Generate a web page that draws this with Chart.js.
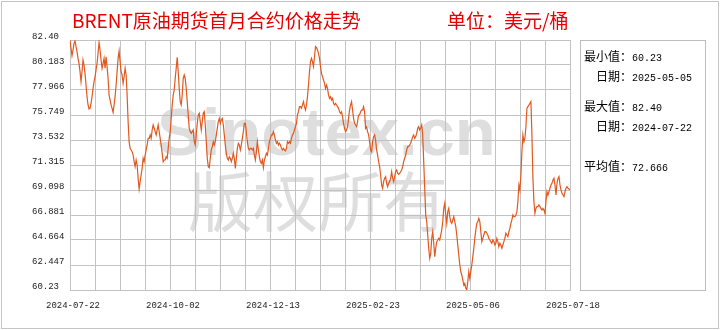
<!DOCTYPE html>
<html><head><meta charset="utf-8">
<script src="https://cdn.jsdelivr.net/npm/chart.js@4/dist/chart.umd.min.js"></script>
<style>
html,body{margin:0;padding:0;background:#fff;}
#wrap{position:relative;width:720px;height:330px;overflow:hidden;background:#fff;}
#frame{position:absolute;left:1px;top:1px;width:716px;height:326px;border:1px solid #c4c4c4;}
canvas{position:absolute;left:0;top:0;}
.ttl{position:absolute;top:8px;font-family:"Noto Sans CJK SC";font-size:19px;line-height:24px;color:#e60000;white-space:nowrap;}
#panel{position:absolute;left:580px;top:40px;width:124px;height:249px;border:1px solid #bdbdbd;}
.row{position:absolute;white-space:nowrap;line-height:14px;height:14px;color:#000;}
.cj{font-family:"Noto Sans CJK SC";font-size:12px;}
.nm{font-family:"Liberation Mono";font-size:10px;}
</style></head>
<body><div id="wrap">
<div id="frame"></div>
<canvas id="c" width="720" height="330"></canvas>
<div class="ttl" style="left:72px">BRENT原油期货首月合约价格走势</div>
<div class="ttl" style="left:447px">单位：美元/桶</div>
<div id="panel"></div>
<div class="row" style="left:584px;top:49px"><span class="cj">最小值：</span><span class="nm">60.23</span></div>
<div class="row" style="left:596px;top:69px"><span class="cj">日期：</span><span class="nm">2025-05-05</span></div>
<div class="row" style="left:584px;top:99px"><span class="cj">最大值：</span><span class="nm">82.40</span></div>
<div class="row" style="left:596px;top:119px"><span class="cj">日期：</span><span class="nm">2024-07-22</span></div>
<div class="row" style="left:584px;top:159px"><span class="cj">平均值：</span><span class="nm">72.666</span></div>
</div>
<script>
const xTickLabels = ['2024-07-22','2024-10-02','2024-12-13','2025-02-23','2025-05-06','2025-07-18'];
const yTickLabels = ['82.40','80.183','77.966','75.749','73.532','71.315','69.098','66.881','64.664','62.447','60.23'];
const daySpan = 361;
const yMin = 60.23, yMax = 82.40;
const prices = [
82.40,81.66,81.01,81.51,82.10,82.31,81.81,81.37,80.77,80.33,
79.59,78.71,79.59,80.63,80.18,79.44,78.41,77.37,76.64,76.28,
76.34,76.78,77.37,78.11,78.71,79.15,79.74,80.33,81.22,82.19,
81.51,80.63,79.89,80.33,80.77,79.89,80.92,80.04,79.00,77.52,
77.08,76.64,76.34,75.99,76.64,77.37,78.41,79.59,80.77,81.42,
80.48,79.59,79.30,78.56,79.15,79.89,79.30,77.52,75.16,73.38,
72.79,72.65,72.50,72.20,71.61,71.17,71.76,71.31,70.13,69.19,
69.84,70.43,71.02,71.91,71.61,72.20,72.65,73.09,73.68,73.68,
73.98,73.68,74.42,74.86,74.57,74.27,73.98,74.42,74.86,74.27,
73.68,73.09,72.35,71.61,71.76,71.76,72.05,71.91,72.79,73.68,
74.27,75.45,76.64,77.52,77.97,79.00,79.89,80.86,79.59,78.11,
76.93,76.64,77.52,79.00,79.30,79.00,78.11,76.93,75.75,74.57,
74.27,74.12,74.27,74.42,73.38,
73.09,73.98,75.01,75.75,75.90,75.16,74.42,75.16,75.90,76.04,
74.86,73.38,71.91,71.17,71.08,71.91,72.65,72.94,73.38,73.09,
73.38,73.98,74.57,75.16,75.45,75.01,75.31,75.45,74.86,73.98,
73.09,72.35,71.91,71.76,72.05,71.91,71.61,71.91,72.35,71.91,
71.02,71.91,72.79,73.24,73.09,72.65,73.09,73.68,74.27,75.01,
75.01,74.27,73.38,72.79,72.65,72.79,72.79,72.65,72.79,72.20,
71.76,72.50,73.38,72.65,72.05,71.61,71.46,71.76,71.08,71.76,
72.05,72.35,72.20,72.79,73.38,73.68,73.98,73.98,74.27,73.98,
73.53,73.24,73.38,73.09,73.24,73.09,72.79,72.65,72.79,72.65,
72.56,72.79,73.38,73.24,73.38,73.24,73.68,73.98,74.12,74.42,
74.71,75.01,75.75,76.04,76.49,76.49,76.34,76.64,76.93,76.49,
76.19,76.64,77.37,78.41,79.59,80.48,80.77,80.48,80.04,80.92,
81.81,81.72,81.51,81.22,80.77,80.04,79.44,79.15,78.85,78.56,
78.11,78.41,78.11,77.52,77.23,77.37,77.08,77.23,76.78,76.64,
76.78,76.64,76.49,76.34,76.04,75.90,76.04,75.60,75.01,74.57,
74.27,74.42,74.71,75.45,76.19,76.64,76.93,76.19,75.45,75.01,
74.86,74.71,75.16,75.75,75.75,76.04,76.19,76.19,76.49,76.04,
74.57,74.71,74.27,73.98,73.38,72.65,72.50,73.38,73.83,73.98,
73.53,72.65,72.20,71.61,71.17,70.43,69.54,69.25,69.84,70.13,
70.28,69.69,69.39,69.69,69.84,70.13,70.72,70.13,69.84,70.28,
70.72,70.87,70.58,70.49,70.58,70.72,70.87,71.17,71.61,71.91,
72.20,72.65,72.94,72.94,73.09,73.24,73.53,73.83,73.98,73.68,
73.83,74.12,74.57,74.71,74.42,74.57,74.86,73.98,71.61,69.25,
66.88,66.29,65.11,63.93,63.04,63.48,64.81,65.40,64.37,63.19,
63.93,64.52,64.66,64.81,
64.66,65.11,65.55,66.29,67.47,67.92,66.88,66.14,67.18,67.47,
66.73,66.29,66.14,66.44,66.73,66.29,65.85,65.11,64.22,63.33,
62.45,61.86,61.56,61.12,60.67,60.82,60.38,60.23,60.97,61.86,
61.27,61.86,62.45,63.19,63.93,64.81,65.55,66.14,66.29,66.59,
66.29,65.40,64.52,64.81,65.11,65.40,65.40,65.26,65.11,64.81,
64.66,64.52,64.37,64.66,64.52,64.22,64.37,64.81,64.52,64.07,
64.37,64.22,63.93,64.22,64.52,64.81,65.26,65.11,64.96,65.40,
65.70,66.14,66.44,66.88,66.73,66.73,66.88,67.18,68.06,69.54,
69.10,70.43,72.50,73.98,73.38,73.68,74.71,76.34,76.49,76.64,
76.78,76.93,73.98,70.13,68.06,67.03,67.47,67.62,67.62,67.77,
67.62,67.47,67.32,67.47,67.32,67.03,68.06,68.95,68.65,68.95,
69.25,69.54,69.69,69.98,70.13,69.54,68.65,69.69,70.13,70.28,
69.54,69.10,68.80,68.65,68.51,68.95,69.25,69.39,69.25,69.19,
69.10
];

const gridColor = '#c3c3c3';
const watermark = {
  id: 'watermark',
  beforeDatasetsDraw(chart) {
    const ctx = chart.ctx;
    ctx.save();
    ctx.fillStyle = 'rgba(190,190,190,0.5)';
    ctx.textBaseline = 'alphabetic';
    ctx.font = 'bold 67px "Liberation Sans"';
    ctx.fillText('Sinotex.cn', 157, 155);
    ctx.font = '65px "Noto Sans CJK SC"';
    ctx.fillText('版权所有', 188, 226);
    ctx.restore();
  }
};

new Chart(document.getElementById('c'), {
  type: 'line',
  data: {
    datasets: [{
      data: prices.map((v, i) => ({ x: i * daySpan / (prices.length - 1), y: v })),
      borderColor: '#e2581e',
      borderWidth: 1.2,
      pointRadius: 0,
      tension: 0,
      fill: false
    }]
  },
  options: {
    responsive: false,
    animation: false,
    devicePixelRatio: 1,
    layout: { padding: { left: 32, right: 150, top: 40, bottom: 0 } },
    plugins: { legend: { display: false }, tooltip: { enabled: false } },
    scales: {
      x: {
        type: 'linear', min: 0, max: daySpan,
        afterBuildTicks(s) { s.ticks = Array.from({ length: 21 }, (_, k) => ({ value: k * daySpan / 20 })); },
        afterFit(s) { s.height = 40; },
        grid: { color: gridColor, lineWidth: 1, drawTicks: false },
        border: { color: gridColor },
        ticks: {
          autoSkip: false, maxRotation: 0, padding: 10, labelOffset: 3,
          color: '#222', font: { family: 'Liberation Mono', size: 9 },
          callback: (v, i) => (i % 4 === 0 ? xTickLabels[i / 4] : '')
        }
      },
      y: {
        type: 'linear', min: yMin, max: yMax,
        afterBuildTicks(s) { s.ticks = yTickLabels.map((_, k) => ({ value: yMin + k * (yMax - yMin) / 10 })); },
        afterFit(s) { s.width = 38; },
        grid: { color: gridColor, lineWidth: 1, drawTicks: false },
        border: { color: gridColor },
        ticks: {
          crossAlign: 'far', labelOffset: -3, padding: 4,
          color: '#222', font: { family: 'Liberation Mono', size: 9 },
          callback: (v, i) => yTickLabels[yTickLabels.length - 1 - i]
        }
      }
    }
  },
  plugins: [watermark]
});
</script>
</body></html>
